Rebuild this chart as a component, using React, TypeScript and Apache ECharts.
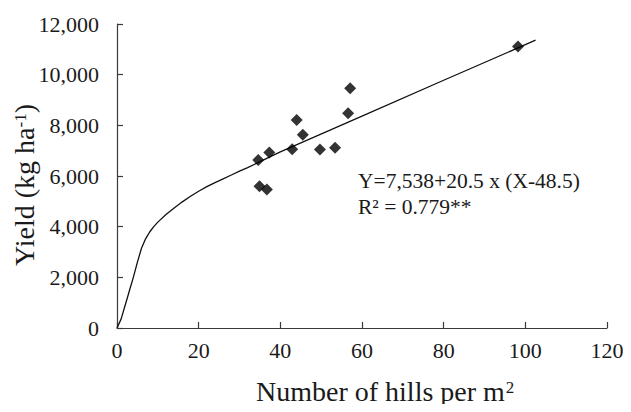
import React, { useEffect, useRef } from "react";
import * as echarts from "echarts";

const hills = [34.6, 34.9, 36.7, 37.3, 42.9, 44.0, 45.5, 49.7, 53.4, 56.6, 57.1, 98.2];
const yields = [6630, 5600, 5470, 6930, 7060, 8210, 7630, 7050, 7115, 8475, 9460, 11110];

const fitX = [0, 1, 2, 3, 4, 5, 6, 7, 8, 9, 10, 12, 14, 16, 18, 20, 22, 24, 26, 28, 30, 32, 40, 60, 80, 102.5];
const fitY = [0, 350, 900, 1450, 2000, 2600, 3150, 3520, 3790, 4000, 4180, 4480, 4740, 4980, 5200, 5400, 5580, 5740, 5890, 6040, 6190, 6330, 6950, 8360, 9780, 11360];

const xTicks = [0, 20, 40, 60, 80, 100, 120];
const yTicks = [0, 2000, 4000, 6000, 8000, 10000, 12000];

const xTitle = "Number of hills per m";
const xTitleSup = "2";
const yTitle = "Yield (kg ha";
const yTitleSup = "-1";
const yTitleEnd = ")";
const equationLine1 = "Y=7,538+20.5 x (X-48.5)";
const equationLine2 = "R² = 0.779**";

const FONT = "Liberation Serif";
const INK = "#1a1a1a";

export default function App() {
  const ref = useRef<HTMLDivElement>(null);
  useEffect(() => {
    if (!ref.current) return;
    const chart = echarts.init(ref.current, null, { renderer: "svg" });
    const axisColor = "#3a3a3a";

    const big = "28px " + FONT;
    const small = "17px " + FONT;
    const w = (t: string, f: string) => echarts.format.getTextRect
      ? (echarts.format as any).getTextRect(t, f).width
      : t.length * 12;
    const xTitleW = w(xTitle, big);
    const yTitleW = w(yTitle, big);
    const ySupW = w(yTitleSup, small);
    const yEndW = w(yTitleEnd, big);
    const yTotal = yTitleW + ySupW + yEndW;

    chart.setOption({
      animation: false,
      backgroundColor: "#ffffff",
      textStyle: { fontFamily: FONT },
      grid: { left: 117, right: 24, top: 24, bottom: 84, containLabel: false },
      xAxis: {
        type: "value",
        min: xTicks[0],
        max: xTicks[xTicks.length - 1],
        interval: 20,
        axisLine: { show: true, lineStyle: { color: axisColor, width: 1.2 } },
        axisTick: { show: true, inside: true, length: 6, lineStyle: { color: axisColor, width: 1.2 } },
        axisLabel: { color: INK, fontFamily: FONT, fontSize: 22, margin: 11 },
        splitLine: { show: false },
      },
      yAxis: {
        type: "value",
        min: yTicks[0],
        max: yTicks[yTicks.length - 1],
        interval: 2000,
        axisLine: { show: true, lineStyle: { color: axisColor, width: 1.2 } },
        axisTick: { show: true, inside: true, length: 6, lineStyle: { color: axisColor, width: 1.2 } },
        axisLabel: {
          color: INK,
          fontFamily: FONT,
          fontSize: 22,
          margin: 18,
          formatter: (v: number) => v.toLocaleString("en-US"),
        },
        splitLine: { show: false },
      },
      graphic: [
        {
          type: "group",
          x: 256,
          y: 391,
          children: [
            {
              type: "text",
              x: 0,
              y: 0,
              style: { text: xTitle, font: big, fill: INK, align: "left", verticalAlign: "middle" },
            },
            {
              type: "text",
              x: xTitleW + 1,
              y: -4,
              style: { text: xTitleSup, font: small, fill: INK, align: "left", verticalAlign: "middle" },
            },
          ],
        },
        {
          type: "group",
          x: 24.5,
          y: 185 + yTotal / 2,
          rotation: Math.PI / 2,
          children: [
            {
              type: "text",
              x: 0,
              y: 0,
              style: { text: yTitle, font: big, fill: INK, align: "left", verticalAlign: "middle" },
            },
            {
              type: "text",
              x: yTitleW,
              y: -4.5,
              style: { text: yTitleSup, font: small, fill: INK, align: "left", verticalAlign: "middle" },
            },
            {
              type: "text",
              x: yTitleW + ySupW,
              y: 0,
              style: { text: yTitleEnd, font: big, fill: INK, align: "left", verticalAlign: "middle" },
            },
          ],
        },
        {
          type: "text",
          left: 358,
          top: 170,
          style: { text: equationLine1, fontFamily: FONT, fontSize: 21.5, fill: INK },
        },
        {
          type: "text",
          left: 358,
          top: 196,
          style: { text: equationLine2, fontFamily: FONT, fontSize: 21.5, fill: INK },
        },
      ],
      series: [
        {
          type: "line",
          data: fitX.map((x, i) => [x, fitY[i]]),
          showSymbol: false,
          smooth: false,
          lineStyle: { color: "#111", width: 1.3 },
          z: 2,
        },
        {
          type: "scatter",
          data: hills.map((x, i) => [x, yields[i]]),
          symbol: "diamond",
          symbolSize: 12,
          itemStyle: { color: "#000" },
          z: 3,
        },
      ],
    });
    return () => chart.dispose();
  }, []);
  return <div ref={ref} style={{ width: 631, height: 412, margin: -8 }} />;
}
